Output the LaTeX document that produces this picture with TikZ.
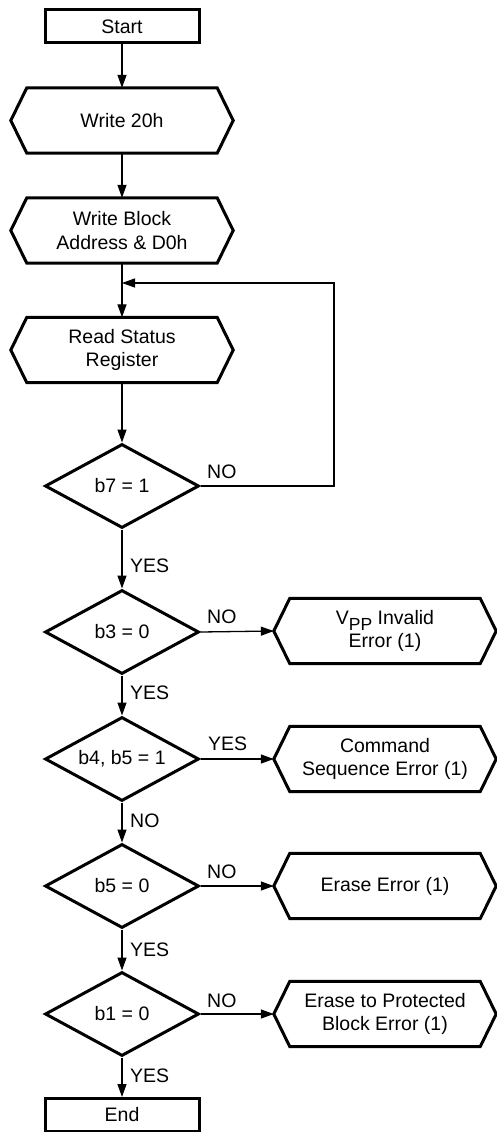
\documentclass[tikz,border=0pt]{standalone}
\usepackage{fontspec}
\setmainfont{Liberation Sans}
\usetikzlibrary{shapes.geometric,arrows.meta}
\begin{document}
\begin{tikzpicture}[x=1pt,y=-1pt,
  every node/.style={font=\fontsize{19.5}{23.5}\selectfont},
  box/.style={draw, line width=3pt, minimum width=154pt, minimum height=33pt, inner sep=0pt},
  hexnode/.style={minimum width=190pt, minimum height=65pt, inner sep=0pt, align=center},
  hexline/.style={line width=3pt, line join=miter},
  dec/.style={draw, diamond, line width=3pt, minimum width=154pt, minimum height=84pt, inner sep=0pt},
  conn/.style={line width=1.3pt, -{Triangle[length=13pt,width=9pt]}},
  lbl/.style={anchor=base west, inner sep=0pt}
]
\useasboundingbox (0,0) rectangle (496,1132);

% process boxes
\node[box] (start) at (122,26.5) {Start};
\node[hexnode] (w20) at (122,120.5) {Write 20h};
\node[hexnode] (wba) at (122,230.5) {Write Block\\Address \& D0h};
\node[hexnode] (rsr) at (122,350) {Read Status\\Register};

% decisions
\node[dec] (b7) at (122,486) {\makebox[0pt]{b7 = 1}};
\node[dec] (b3) at (122,632) {\makebox[0pt]{b3 = 0}};
\node[dec] (b45) at (122,759) {\makebox[0pt]{b4, b5 = 1}};
\node[dec] (b5) at (122,886) {\makebox[0pt]{b5 = 0}};
\node[dec] (b1) at (122,1014) {\makebox[0pt]{b1 = 0}};
\node[box] (end) at (122,1115) {End};

% error boxes
\node[hexnode] (vpp) at (385,631) {V\raisebox{-6pt}{\fontsize{17.5}{17.5}\selectfont PP} Invalid\\Error (1)};
\node[hexnode] (cse) at (385,759) {Command\\Sequence Error (1)};
\node[hexnode] (ee) at (385,886) {Erase Error (1)};
\node[hexnode] (epb) at (385,1014) {Erase to Protected\\Block Error (1)};

\foreach \n in {w20,wba,rsr,vpp,cse,ee,epb}
  \draw[hexline] (\n.north west) -- (\n.north east) -- ([xshift=16pt]\n.east)
     -- (\n.south east) -- (\n.south west) -- ([xshift=-16pt]\n.west) -- cycle;

% main flow
\draw[conn] (start) -- (w20);
\draw[conn] (w20) -- (wba);
\draw[conn] (wba) -- (rsr);
\draw[conn] (rsr) -- (b7);
\draw[conn] (b7) -- (b3);
\draw[conn] (b3) -- (b45);
\draw[conn] (b45) -- (b5);
\draw[conn] (b5) -- (b1);
\draw[conn] (b1) -- (end);

% loop back
\coordinate (loopj) at (122,283);
\coordinate (loopr) at (334,283);
\draw[conn] (b7.east) -| (loopr) -- (loopj);

% error branches
\draw[conn] (b3.east) -- ([xshift=-16pt]vpp.west);
\draw[conn] (b45.east) -- ([xshift=-16pt]cse.west);
\draw[conn] (b5.east) -- ([xshift=-16pt]ee.west);
\draw[conn] (b1.east) -- ([xshift=-16pt]epb.west);

% labels
\node[lbl] (l7n) at (207,478) {NO};
\node[lbl] (l7y) at (130,572) {YES};
\node[lbl] (l3n) at (207,623) {NO};
\node[lbl] (l3y) at (130,699) {YES};
\node[lbl] (l45y) at (208,750) {YES};
\node[lbl] (l45n) at (130,827) {NO};
\node[lbl] (l5n) at (207,878) {NO};
\node[lbl] (l5y) at (130,956) {YES};
\node[lbl] (l1n) at (207,1007) {NO};
\node[lbl] (l1y) at (130,1082) {YES};
\end{tikzpicture}
\end{document}
